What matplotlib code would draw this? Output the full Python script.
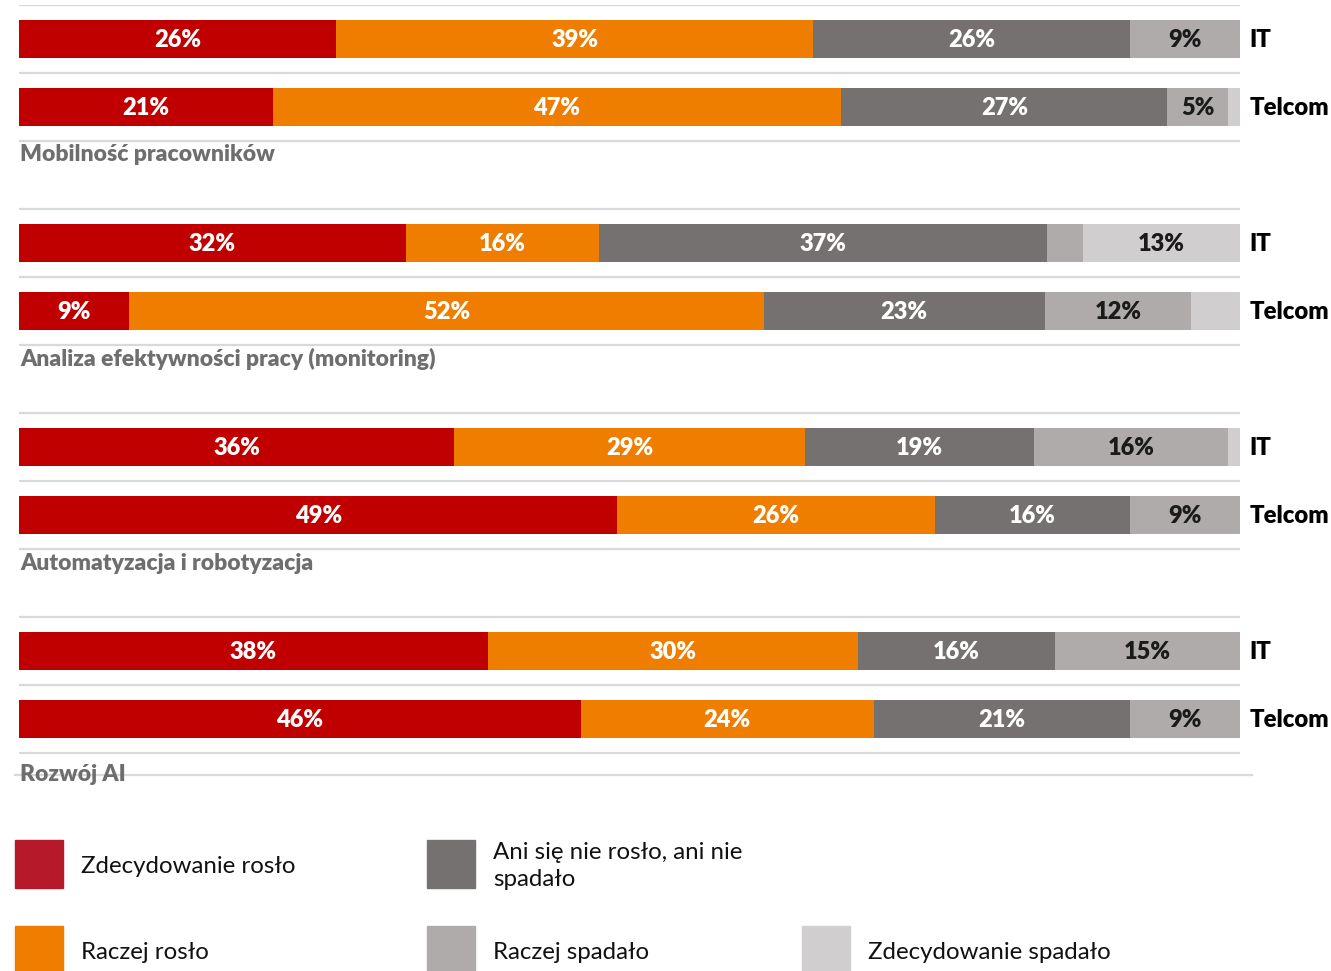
import matplotlib
matplotlib.use("Agg")
import matplotlib.pyplot as plt
from matplotlib.patches import Rectangle
import numpy as np

plt.rcParams['font.family'] = ['Lato', 'DejaVu Sans']

# dane
groups = ['Mobilność pracowników',
          'Analiza efektywności pracy (monitoring)',
          'Automatyzacja i robotyzacja',
          'Rozwój AI']
sectors = ['IT', 'Telcom']
answers = ['Zdecydowanie rosło', 'Raczej rosło', 'Ani się nie rosło, ani nie\nspadało',
           'Raczej spadało', 'Zdecydowanie spadało']

# procenty: [zdecydowanie rosło, raczej rosło, ani/ani, raczej spadało, zdecydowanie spadało]
it_values = [
    [26, 39, 26, 9, 0],
    [32, 16, 37, 3, 13],
    [36, 29, 19, 16, 1],
    [38, 30, 16, 15, 0],
]
telcom_values = [
    [21, 47, 27, 5, 1],
    [9, 52, 23, 12, 4],
    [49, 26, 16, 9, 0],
    [46, 24, 21, 9, 0],
]
# male segmenty bez etykiety
hidden = {(1, 'IT', 3), (0, 'Telcom', 4), (1, 'Telcom', 4), (2, 'IT', 4)}

colors = ['#C00000', '#EE7D00', '#767171', '#AFABAB', '#D0CECE']
legend_colors = ['#B5192A', '#EE7D00', '#767171', '#AFABAB', '#D0CECE']
label_colors = ['white', 'white', 'white', '#1A1A1A', '#1A1A1A']

W, H = 1331, 971
fig = plt.figure(figsize=(W / 100, H / 100), dpi=100)

# os wykresu: 12 slotow po 68 px, od y=5 px
left, right = 19, 1240
top, slot = 5, 68
ax = fig.add_axes([left / W, 1 - (top + 12 * slot) / H, (right - left) / W, 12 * slot / H])
ax.set_xlim(0, 100)
ax.set_ylim(11.5, -0.5)
ax.axis('off')

line_col = '#D9D9D9'
name_shift = [1.7, 1.7, 1.72, 1.82]
for g, name in enumerate(groups):
    base = 3 * g
    for b in (base - 0.5, base + 0.5, base + 1.5):
        ax.plot([0, 100], [b, b], color=line_col, lw=1.6, zorder=1, solid_capstyle='butt')
    for s, (sector, vals) in enumerate(zip(sectors, [it_values[g], telcom_values[g]])):
        y = base + s
        vals = np.array(vals, dtype=float)
        widths = vals / vals.sum() * 100
        starts = np.concatenate([[0], np.cumsum(widths)[:-1]])
        for i in range(5):
            if vals[i] <= 0:
                continue
            ax.barh(y, widths[i], left=starts[i], height=0.56, color=colors[i],
                    edgecolor='none', zorder=2)
            if (g, sector, i) in hidden:
                continue
            ax.text(starts[i] + widths[i] / 2, y + 0.02, '%d%%' % vals[i], ha='center', va='center',
                    color=label_colors[i], fontsize=17, fontweight='heavy', zorder=3)
        ax.text(100.8, y + 0.02, sector, ha='left', va='center', fontsize=17.2,
                fontweight='heavy', color='black', clip_on=False)
    ax.text(0.1, base + name_shift[g], name, ha='left', va='center', fontsize=16.5,
            fontweight='heavy', color='#6E6E6E', zorder=3)

# dolna linia pod ostatnia grupa
ax.plot([-0.3, 101], [10.82, 10.82], color=line_col, lw=1.6, zorder=1, clip_on=False)

# legenda
legend_pos = [(15, 840), (15, 926), (427, 840), (427, 926), (802, 926)]
for (x, y), c, txt in zip(legend_pos, legend_colors, answers):
    fig.patches.append(Rectangle((x / W, 1 - (y + 48) / H), 48 / W, 48 / H,
                                 transform=fig.transFigure, color=c))
    fig.text((x + 66) / W, 1 - (y + 26) / H, txt, ha='left', va='center',
             fontsize=17.3, color='#111111', linespacing=1.3)

fig.savefig('out.png', dpi=100)
